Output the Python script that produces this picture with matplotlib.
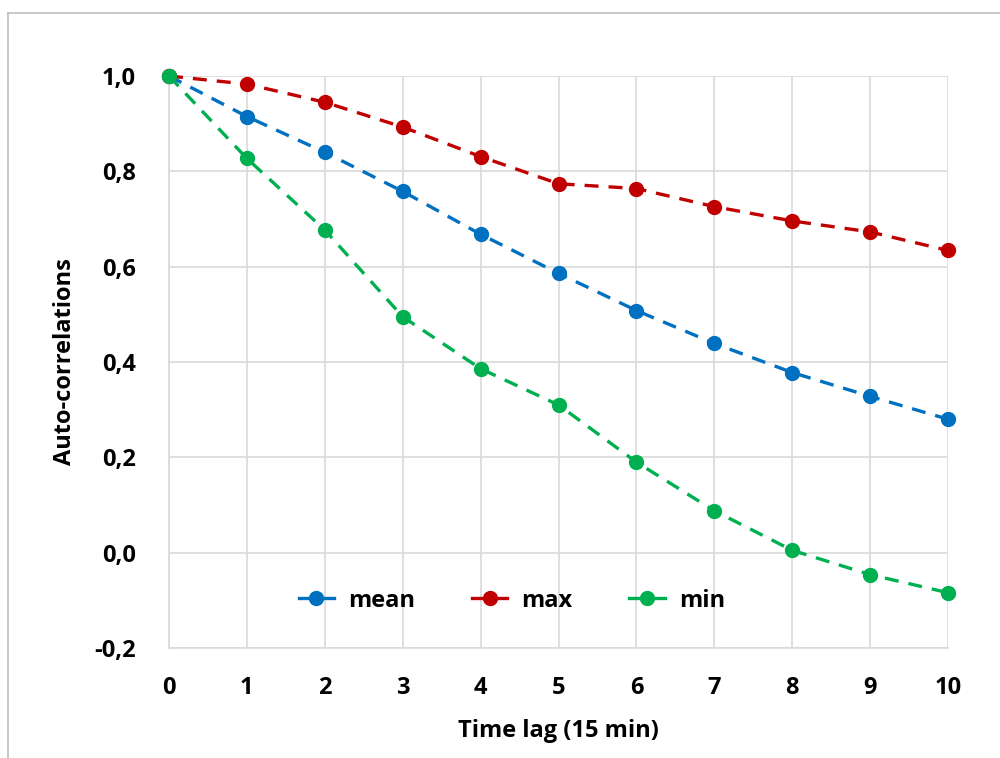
import numpy as np
import matplotlib.pyplot as plt
from matplotlib.lines import Line2D
from matplotlib.ticker import FuncFormatter

plt.rcParams['font.family'] = ['Open Sans', 'DejaVu Sans']
plt.rcParams['font.weight'] = 'bold'

lags = np.arange(0, 11)
mean_ac = [1.0, 0.915, 0.840, 0.758, 0.668, 0.586, 0.508, 0.439, 0.378, 0.328, 0.280]
max_ac = [1.0, 0.983, 0.945, 0.893, 0.831, 0.774, 0.764, 0.726, 0.696, 0.673, 0.634]
min_ac = [1.0, 0.827, 0.677, 0.495, 0.386, 0.310, 0.190, 0.088, 0.005, -0.046, -0.084]

series = [("mean", mean_ac, "#0070C0"),
          ("max", max_ac, "#C00000"),
          ("min", min_ac, "#00B050")]

fig = plt.figure(figsize=(10, 7.58), dpi=100)
ax = fig.add_axes([0.169, 0.1451, 0.779, 0.7546])

handles = []
for name, vals, col in series:
    ax.plot(lags, vals, color=col, lw=2.4, ls=(0, (4.2, 3.0)),
            marker='o', ms=10, zorder=3, clip_on=False)
    handles.append(Line2D([], [], color=col, lw=2.4, marker='o', ms=10))

ax.set_xlim(0, 10)
ax.set_ylim(-0.2, 1.0)
ax.set_xticks(lags)
ax.set_yticks(np.arange(-0.2, 1.01, 0.2))
ax.yaxis.set_major_formatter(FuncFormatter(lambda v, p: f"{v:.1f}".replace('.', ',').replace('-0,0', '0,0')))
ax.grid(True, color='#D9D9D9', lw=1.2)
ax.set_axisbelow(True)
for s in ['top', 'right']:
    ax.spines[s].set_visible(False)
for s in ['left', 'bottom']:
    ax.spines[s].set_color('#D9D9D9')
    ax.spines[s].set_linewidth(1.2)
ax.tick_params(length=0, labelsize=17)
ax.tick_params(axis='y', pad=24)
ax.tick_params(axis='x', pad=20)
ax.set_xlabel("Time lag (15 min)", fontsize=17, fontweight='bold', labelpad=14)
ax.set_ylabel("Auto-correlations", fontsize=17, fontweight='bold', labelpad=12)

ax.legend(handles, [s[0] for s in series], loc='center', bbox_to_anchor=(0.44, 0.083),
          ncol=3, frameon=False, fontsize=17, handlelength=1.5, columnspacing=2.4,
          handletextpad=0.6)

# outer chart border
fig.add_artist(Line2D([0.008, 0.008], [0, 1 - 13 / 758], color='#BFBFBF', lw=1.2))
fig.add_artist(Line2D([0.008, 1], [1 - 13 / 758, 1 - 13 / 758], color='#BFBFBF', lw=1.2))

fig.savefig("out.png", dpi=100)
